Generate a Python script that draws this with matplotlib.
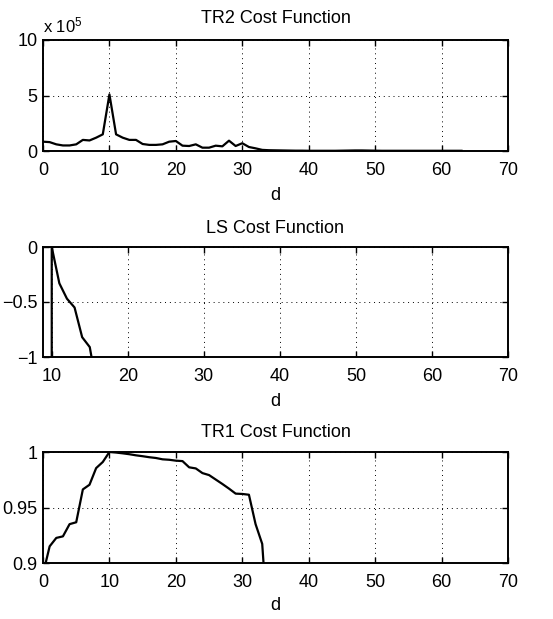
import numpy as np
import matplotlib
matplotlib.use("Agg")
import matplotlib.pyplot as plt
from matplotlib.font_manager import fontManager

names = {f.name for f in fontManager.ttflist}
fam = [n for n in ['Liberation Sans Narrow', 'Liberation Sans', 'DejaVu Sans'] if n in names]
plt.rcParams['font.family'] = fam
plt.rcParams['mathtext.default'] = 'regular'

# ---- data ----
d_tr2 = list(range(0, 64))
tr2 = [0.84, 0.80, 0.60, 0.50, 0.50, 0.60, 1.00, 0.95, 1.20, 1.50,
       5.10, 1.50, 1.20, 1.00, 1.00, 0.63, 0.55, 0.55, 0.60, 0.84,
       0.90, 0.48, 0.45, 0.60, 0.30, 0.30, 0.48, 0.42, 0.93, 0.45,
       0.70, 0.36, 0.24, 0.10, 0.07, 0.06, 0.05, 0.04, 0.03, 0.03,
       0.02, 0.02, 0.02, 0.02, 0.02, 0.03, 0.04, 0.05, 0.05, 0.04,
       0.03, 0.02, 0.02, 0.02, 0.02, 0.02, 0.02, 0.02, 0.02, 0.02,
       0.02, 0.02, 0.02, 0.02]  # x 1e5

d_ls = [9, 10, 11, 12, 13, 14, 15, 16]
ls = [-1000.0, 0.0, -0.33, -0.47, -0.55, -0.82, -0.91, -1.3]

d_tr1 = list(range(0, 35))
tr1 = [0.890, 0.915, 0.9226, 0.924, 0.935, 0.9367, 0.9663, 0.9705, 0.9855, 0.991,
       1.000, 0.9995, 0.9988, 0.998, 0.997, 0.9962, 0.9953, 0.9946, 0.9934, 0.993,
       0.9922, 0.9918, 0.9862, 0.9852, 0.981, 0.9792, 0.9752, 0.9712, 0.967, 0.9625,
       0.9622, 0.9615, 0.935, 0.9172, 0.83]

titles = ['TR2 Cost Function', 'LS Cost Function', 'TR1 Cost Function']
xticks_top = [0, 10, 20, 30, 40, 50, 60, 70]
xticks_mid = [10, 20, 30, 40, 50, 60, 70]

W, H = 553, 619
fig = plt.figure(figsize=(W / 100, H / 100), dpi=100)

def rect(l, r, t, b):
    return [l / W, 1 - b / H, (r - l) / W, (b - t) / H]

FS = 13
axes = [fig.add_axes(rect(43, 508, 40, 151)),
        fig.add_axes(rect(43, 508, 247, 357)),
        fig.add_axes(rect(43, 508, 452, 563))]

def style(ax, title, tpad=10, lpad=4):
    for s in ax.spines.values():
        s.set_linewidth(1.4)
    ax.tick_params(direction='in', top=True, right=True, length=4, width=1.0,
                   labelsize=FS)
    ax.tick_params(axis='x', pad=8)
    ax.tick_params(axis='y', pad=4)
    ax.grid(True, color='black', linestyle=(0, (1, 4)), linewidth=0.7)
    ax.set_title(title, fontsize=FS, pad=tpad)
    ax.set_xlabel('d', fontsize=FS, labelpad=lpad)

ax = axes[0]
ax.plot(d_tr2, tr2, color='black', linewidth=1.6)
ax.set_xlim(0, 70)
ax.set_ylim(0, 10)
ax.set_xticks(xticks_top)
ax.set_yticks([0, 5, 10])
style(ax, titles[0], tpad=12, lpad=6)
ax.text(0.0, 1.04, r'x 10$^{5}$', transform=ax.transAxes, fontsize=FS - 1,
        ha='left', va='bottom')

ax = axes[1]
ax.plot(d_ls, ls, color='black', linewidth=1.6)
ax.set_xlim(8.85, 70)
ax.set_ylim(-1, 0)
ax.set_xticks(xticks_mid)
ax.set_yticks([-1, -0.5, 0])
ax.set_yticklabels(['\u22121', '\u22120.5', '0'])
style(ax, titles[1], tpad=10, lpad=6)

ax = axes[2]
ax.plot(d_tr1, tr1, color='black', linewidth=1.6)
ax.set_xlim(0, 70)
ax.set_ylim(0.9, 1.0)
ax.set_xticks(xticks_top)
ax.set_yticks([0.9, 0.95, 1.0])
ax.set_yticklabels(['0.9', '0.95', '1'])
style(ax, titles[2], tpad=11, lpad=4)

fig.savefig('out.png', dpi=100)
